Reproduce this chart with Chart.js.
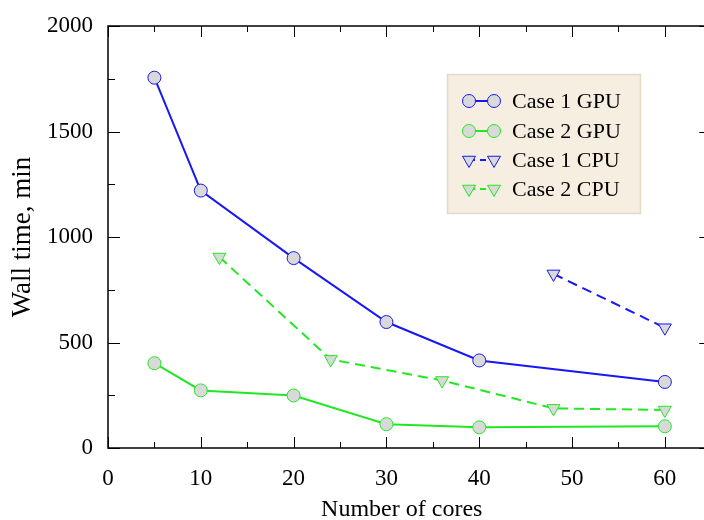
<!DOCTYPE html>
<html>
<head>
<meta charset="utf-8">
<script src="https://cdn.jsdelivr.net/npm/chart.js@4.4.0/dist/chart.umd.min.js"></script>
<style>
  html, body { margin: 0; padding: 0; background: #fff; overflow: hidden; }
</style>
</head>
<body>
<canvas id="chart" width="704" height="520"></canvas>
<script>
// data
const coresGpu = [5, 10, 20, 30, 40, 60];
const case1Gpu = [1755, 1220, 900, 597, 415, 313];
const case2Gpu = [402, 273, 249, 113, 98, 103];
const coresCpu1 = [48, 60];
const case1Cpu = [825, 570];
const coresCpu2 = [12, 24, 36, 48, 60];
const case2Cpu = [905, 420, 320, 188, 180];

const xTicks = [0, 10, 20, 30, 40, 50, 60];
const yTicks = [0, 500, 1000, 1500, 2000];

const BLUE = '#1818f4';
const GREEN = '#22e822';
const FILL = '#d9d9d9';

function pts(xs, ys) {
  return xs.map((x, i) => ({ x: x, y: ys[i] }));
}

Chart.defaults.font.family = '"Liberation Serif", "Times New Roman", serif';
Chart.defaults.color = '#000';

// inward ticks on all four sides + box (right side of the box sits at x=65, past the canvas edge)
const framePlugin = {
  id: 'frame',
  afterDraw(chart) {
    const { ctx, chartArea: a, scales } = chart;
    const right = scales.x.getPixelForValue(65);
    ctx.save();
    ctx.strokeStyle = '#000';
    ctx.lineWidth = 1.5;
    ctx.strokeRect(a.left, a.top, right - a.left, a.bottom - a.top);
    ctx.lineWidth = 1;
    for (let v = 0; v <= 65; v += 5) {
      const x = Math.round(scales.x.getPixelForValue(v)) + 0.5;
      const len = v % 10 === 0 ? 11 : 6;
      ctx.beginPath();
      ctx.moveTo(x, a.bottom); ctx.lineTo(x, a.bottom - len);
      ctx.moveTo(x, a.top); ctx.lineTo(x, a.top + len);
      ctx.stroke();
    }
    for (let v = 0; v <= 2000; v += 250) {
      const y = Math.round(scales.y.getPixelForValue(v)) + 0.5;
      const len = v % 500 === 0 ? 12 : 7;
      ctx.beginPath();
      ctx.moveTo(a.left, y); ctx.lineTo(a.left + len, y);
      ctx.moveTo(right, y); ctx.lineTo(right - len, y);
      ctx.stroke();
    }
    ctx.restore();
  }
};

// legend box inside the plot
const legendPlugin = {
  id: 'boxLegend',
  afterDraw(chart) {
    const ctx = chart.ctx;
    const left = 447, top = 74, w = 193, h = 139;
    ctx.save();
    ctx.fillStyle = '#f5eee1';
    ctx.fillRect(left, top, w, h);
    ctx.strokeStyle = '#e2dcc8';
    ctx.lineWidth = 1.5;
    ctx.strokeRect(left + 0.5, top + 0.5, w, h);
    const rows = [101, 131, 160, 189];
    chart.data.datasets.forEach((ds, i) => {
      const y = rows[i];
      const x1 = 469, x2 = 494;
      ctx.strokeStyle = ds.borderColor;
      ctx.lineWidth = 2;
      ctx.setLineDash(ds.borderDash ? [6, 5] : []);
      ctx.beginPath();
      ctx.moveTo(x1, y); ctx.lineTo(x2, y);
      ctx.stroke();
      ctx.setLineDash([]);
      [x1, x2].forEach(x => {
        ctx.fillStyle = ds.pointBackgroundColor;
        ctx.strokeStyle = ds.pointBorderColor;
        ctx.lineWidth = 1;
        Chart.helpers.drawPoint(ctx, {
          pointStyle: ds.pointStyle,
          radius: ds.pointRadius,
          rotation: ds.pointRotation || 0,
          borderWidth: 1
        }, x, y);
      });
      ctx.fillStyle = '#000';
      ctx.font = '22px "Liberation Serif", serif';
      ctx.textAlign = 'left';
      ctx.textBaseline = 'middle';
      ctx.fillText(ds.label, 512, y + 1);
    });
    ctx.restore();
  }
};

const lineDefaults = {
  borderWidth: 2,
  pointRadius: 6.5,
  pointBorderWidth: 1,
  pointBackgroundColor: FILL,
  tension: 0,
  fill: false
};

new Chart(document.getElementById('chart'), {
  type: 'line',
  data: {
    datasets: [
      Object.assign({}, lineDefaults, {
        label: 'Case 1 GPU',
        data: pts(coresGpu, case1Gpu),
        borderColor: BLUE,
        pointBorderColor: BLUE,
        pointStyle: 'circle'
      }),
      Object.assign({}, lineDefaults, {
        label: 'Case 2 GPU',
        data: pts(coresGpu, case2Gpu),
        borderColor: GREEN,
        pointBorderColor: GREEN,
        pointStyle: 'circle'
      }),
      Object.assign({}, lineDefaults, {
        label: 'Case 1 CPU',
        data: pts(coresCpu1, case1Cpu),
        borderColor: BLUE,
        pointBorderColor: BLUE,
        borderDash: [10, 6],
        pointStyle: 'triangle',
        pointRotation: 180,
        pointRadius: 7.5
      }),
      Object.assign({}, lineDefaults, {
        label: 'Case 2 CPU',
        data: pts(coresCpu2, case2Cpu),
        borderColor: GREEN,
        pointBorderColor: GREEN,
        borderDash: [10, 6],
        pointStyle: 'triangle',
        pointRotation: 180,
        pointRadius: 7.5
      })
    ]
  },
  options: {
    responsive: false,
    animation: false,
    layout: { padding: { top: 26, right: 0, left: 0, bottom: 0 } },
    plugins: {
      legend: { display: false },
      tooltip: { enabled: false }
    },
    scales: {
      x: {
        type: 'linear',
        min: 0,
        max: 63.3,
        afterFit(scale) {
          scale.height = 72;
          scale.paddingLeft = 0;
          scale.paddingRight = 0;
        },
        afterBuildTicks(scale) { scale.ticks = xTicks.map(v => ({ value: v })); },
        grid: { display: false, drawTicks: false },
        border: { display: false },
        ticks: { padding: 17, font: { size: 23 }, maxRotation: 0, callback: v => String(v) },
        title: {
          display: true,
          text: 'Number of cores',
          font: { size: 24, lineHeight: 1 },
          padding: { top: 0, bottom: -2 }
        }
      },
      y: {
        min: 0,
        max: 2000,
        afterFit(scale) {
          scale.width = 108;
          scale.paddingTop = 0;
          scale.paddingBottom = 0;
        },
        afterBuildTicks(scale) { scale.ticks = yTicks.map(v => ({ value: v })); },
        grid: { display: false, drawTicks: false },
        border: { display: false },
        ticks: { padding: 15, font: { size: 23 }, callback: v => String(v) },
        title: {
          display: true,
          text: 'Wall time, min',
          font: { size: 27, lineHeight: 1 },
          padding: { top: 9, bottom: 0 }
        }
      }
    }
  },
  plugins: [framePlugin, legendPlugin]
});
</script>
</body>
</html>
